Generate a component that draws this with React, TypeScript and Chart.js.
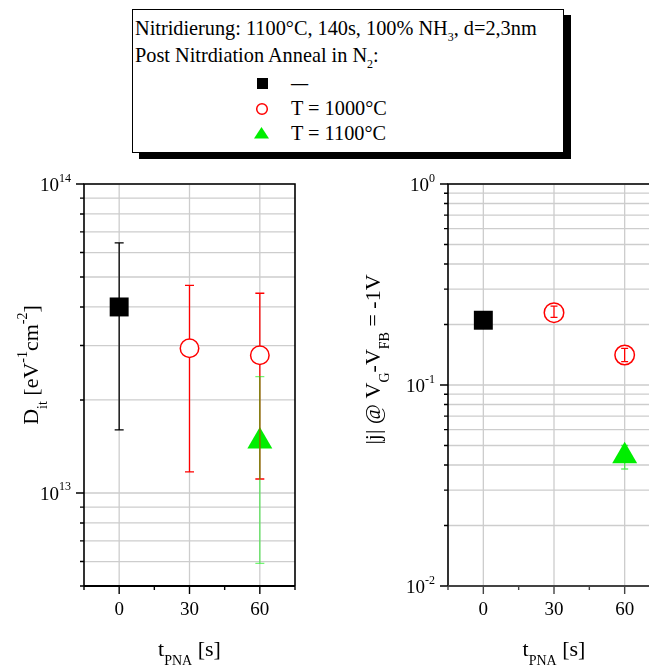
import React, { useEffect, useRef } from 'react';
import { Chart, registerables } from 'chart.js';

Chart.register(...registerables);

// ---------------- data ----------------
const tNoAnneal = [0];
const t1000 = [30, 60];
const t1100 = [60];

// left panel: D_it [eV^-1 cm^-2]
const ditNoAnneal = [4.0e13];
const ditNoAnnealLo = [1.6e13];
const ditNoAnnealHi = [6.45e13];
const dit1000 = [2.94e13, 2.79e13];
const dit1000Lo = [1.17e13, 1.11e13];
const dit1000Hi = [4.7e13, 4.43e13];
const dit1100 = [1.47e13];
const dit1100Lo = [5.92e12];
const dit1100Hi = [2.38e13];

// right panel: |j| @ VG-VFB = -1V
const jNoAnneal = [0.21];
const jNoAnnealLo = [0.2];
const jNoAnnealHi = [0.22];
const j1000 = [0.229, 0.141];
const j1000Lo = [0.217, 0.1306];
const j1000Hi = [0.247, 0.152];
const j1100 = [0.0443];
const j1100Lo = [0.0382];
const j1100Hi = [0.05];

// axes
const tRange = [-15, 75];
const tMinorStep = 15;
const tTickValues = [0, 30, 60];
const tTickLabels = ['0', '30', '60'];
const ditRange = [5e12, 1e14];
const ditTickValues = [1e13, 1e14];
const ditTickExps = ['13', '14'];
const jRange = [1e-2, 1];
const jTickValues = [1e-2, 1e-1, 1];
const jTickExps = ['-2', '-1', '0'];

const BLACK = '#000000';
const RED = '#ff0000';
const GREEN = '#00ee00';

// ---------------- helpers ----------------
const serif = '"Liberation Serif", "Times New Roman", Times, serif';
type Part = [string, number]; // 0 normal, 1 sub, 2 sup

function drawRich(ctx: CanvasRenderingContext2D, parts: Part[], x: number, y: number, align: string, size: number, rot = 0) {
  const small = Math.round(size * 0.63);
  ctx.save();
  ctx.translate(x, y);
  if (rot) ctx.rotate(rot);
  ctx.textBaseline = 'alphabetic';
  ctx.textAlign = 'left';
  ctx.fillStyle = '#000';
  const fonts = parts.map((p) => `${p[1] ? small : size}px ${serif}`);
  const widths = parts.map((p, i) => {
    ctx.font = fonts[i];
    return ctx.measureText(p[0]).width;
  });
  const total = widths.reduce((a, b) => a + b, 0);
  let cx = align === 'center' ? -total / 2 : align === 'right' ? -total : 0;
  parts.forEach((p, i) => {
    ctx.font = fonts[i];
    const dy = p[1] === 1 ? size * 0.43 : p[1] === 2 ? -size * 0.5 : 0;
    ctx.fillText(p[0], cx, dy);
    cx += widths[i];
  });
  ctx.restore();
}

function gridValues(min: number, max: number) {
  const out: number[] = [];
  for (let d = Math.floor(Math.log10(min)); d <= Math.ceil(Math.log10(max)); d++) {
    for (let m = 1; m <= 9; m++) {
      const v = m * Math.pow(10, d);
      if (v >= min * 0.9999 && v <= max * 1.0001) out.push(v);
    }
  }
  return out;
}

function makeDeco(cfg: any) {
  return {
    id: 'deco',
    beforeDatasetsDraw(chart: any) {
      const { ctx, chartArea: a, scales } = chart;
      const xs = scales.x;
      const ys = scales.y;
      ctx.save();
      ctx.strokeStyle = '#cdcdcd';
      ctx.lineWidth = 1.3;
      ctx.beginPath();
      for (const v of gridValues(ys.min, ys.max)) {
        const py = ys.getPixelForValue(v);
        ctx.moveTo(a.left, py);
        ctx.lineTo(a.right, py);
      }
      for (const v of tTickValues) {
        const px = xs.getPixelForValue(v);
        ctx.moveTo(px, a.top);
        ctx.lineTo(px, a.bottom);
      }
      ctx.stroke();
      ctx.restore();
    },
    afterDraw(chart: any) {
      const { ctx, chartArea: a, scales } = chart;
      const xs = scales.x;
      const ys = scales.y;
      ctx.save();
      // frame
      ctx.lineWidth = 1.6;
      ctx.strokeStyle = '#000';
      ctx.beginPath();
      ctx.moveTo(a.left, a.bottom);
      ctx.lineTo(a.left, a.top);
      ctx.lineTo(a.right, a.top);
      ctx.lineTo(a.right, a.bottom);
      ctx.stroke();
      // y ticks
      ctx.lineWidth = 1.4;
      ctx.beginPath();
      for (const v of gridValues(ys.min, ys.max)) {
        const py = ys.getPixelForValue(v);
        const major = Math.abs(Math.log10(v) - Math.round(Math.log10(v))) < 1e-6;
        ctx.moveTo(a.left, py);
        ctx.lineTo(a.left - (major ? 8 : 4), py);
      }
      ctx.stroke();
      // bottom axis + x ticks
      ctx.strokeStyle = cfg.bottomColor;
      ctx.lineWidth = 1.8;
      ctx.beginPath();
      ctx.moveTo(a.left, a.bottom);
      ctx.lineTo(a.right, a.bottom);
      ctx.stroke();
      ctx.lineWidth = 1.4;
      ctx.beginPath();
      for (let v = tRange[0]; v <= tRange[1] + 1e-9; v += tMinorStep) {
        const px = xs.getPixelForValue(v);
        const major = tTickValues.includes(v);
        ctx.moveTo(px, a.bottom);
        ctx.lineTo(px, a.bottom + (major ? 8 : 4));
      }
      ctx.stroke();
      ctx.restore();

      // x tick labels
      ctx.save();
      ctx.fillStyle = '#000';
      ctx.font = `19px ${serif}`;
      ctx.textAlign = 'center';
      ctx.textBaseline = 'alphabetic';
      tTickValues.forEach((v, i) => {
        ctx.fillText(tTickLabels[i], xs.getPixelForValue(v), a.bottom + 29);
      });
      ctx.restore();
      // y tick labels
      cfg.yTickValues.forEach((v: number, i: number) => {
        drawRich(ctx, [['10', 0], [cfg.yTickExps[i], 2]], a.left - 13, ys.getPixelForValue(v) + 7, 'right', 19);
      });
      // titles
      drawRich(ctx, cfg.yTitle, cfg.yTitleX, cfg.yTitleY, 'center', 22, -Math.PI / 2);
      drawRich(ctx, [['t', 0], ['PNA', 1], [' [s]', 0]], (a.left + a.right) / 2, a.bottom + 70, 'center', 22);
    },
  };
}

function drawErr(chart: any, list: number[][], cap: number) {
  const ctx = chart.ctx;
  const xs = chart.scales.x;
  const ys = chart.scales.y;
  for (const [di, alpha] of list) {
    const ds = chart.data.datasets[di];
    ctx.save();
    ctx.globalAlpha = alpha;
    ctx.strokeStyle = ds.errColor;
    ctx.lineWidth = 1.3;
    ds.data.forEach((p: any, i: number) => {
      const x = xs.getPixelForValue(p.x);
      const y1 = ys.getPixelForValue(ds.errHi[i]);
      const y2 = ys.getPixelForValue(ds.errLo[i]);
      ctx.beginPath();
      ctx.moveTo(x, y1);
      ctx.lineTo(x, y2);
      ctx.moveTo(x - cap, y1);
      ctx.lineTo(x + cap, y1);
      ctx.moveTo(x - cap, y2);
      ctx.lineTo(x + cap, y2);
      ctx.stroke();
    });
    ctx.restore();
  }
}

function makeErr(before: Record<number, number[][]>, after: number[][], cap: number) {
  return {
    id: 'errbars',
    beforeDatasetDraw(chart: any, args: any) {
      const l = before[args.index];
      if (l) drawErr(chart, l, cap);
    },
    afterDatasetsDraw(chart: any) {
      if (after.length) drawErr(chart, after, cap);
    },
  };
}

function pts(xs: number[], ys: number[]) {
  return xs.map((x, i) => ({ x, y: ys[i] }));
}

function buildConfig(p: any): any {
  return {
    type: 'scatter',
    data: { datasets: p.datasets },
    options: {
      animation: false,
      responsive: false,
      devicePixelRatio: 1,
      events: [],
      layout: { padding: { left: 0, top: 24, right: p.padRight, bottom: 0 }, autoPadding: false },
      scales: {
        x: {
          type: 'linear', min: tRange[0], max: tRange[1],
          grid: { display: false }, border: { display: false }, ticks: { display: false },
          afterFit: (s: any) => { s.height = 80; },
        },
        y: {
          type: 'logarithmic', min: p.yRange[0], max: p.yRange[1],
          grid: { display: false }, border: { display: false }, ticks: { display: false },
          afterFit: (s: any) => { s.width = p.yWidth; },
        },
      },
      plugins: { legend: { display: false }, tooltip: { enabled: false }, title: { display: false } },
    },
    plugins: [makeDeco(p.deco), makeErr(p.before, p.after, p.cap)],
  };
}

function ds(data: any, style: string, radius: number, color: string, fill: string, lo: number[], hi: number[], order: number) {
  return {
    data,
    showLine: false,
    pointStyle: style,
    pointRadius: radius,
    pointHoverRadius: radius,
    pointBackgroundColor: fill,
    pointBorderColor: color,
    pointBorderWidth: style === 'circle' ? 1.5 : 0,
    errColor: color,
    errLo: lo,
    errHi: hi,
    order,
  };
}

export default function App() {
  const leftRef = useRef<HTMLCanvasElement>(null);
  const rightRef = useRef<HTMLCanvasElement>(null);

  useEffect(() => {
    const c1 = new Chart(leftRef.current as HTMLCanvasElement, buildConfig({
      datasets: [
        ds(pts(tNoAnneal, ditNoAnneal), 'rect', 13.4, BLACK, BLACK, ditNoAnnealLo, ditNoAnnealHi, 3),
        ds(pts(t1000, dit1000), 'circle', 9.25, RED, '#ffffff', dit1000Lo, dit1000Hi, 1),
        ds(pts(t1100, dit1100), 'triangle', 14.4, GREEN, GREEN, dit1100Lo, dit1100Hi, 2),
      ],
      yRange: ditRange,
      yWidth: 84,
      padRight: 35,
      cap: 4.5,
      before: { 0: [[0, 1]], 1: [[1, 1], [2, 0.55]] },
      after: [],
      deco: {
        bottomColor: '#000',
        yTickValues: ditTickValues,
        yTickExps: ditTickExps,
        yTitle: [['D', 0], ['it', 1], [' [eV', 0], ['-1', 2], ['cm', 0], ['-2', 2], [']', 0]],
        yTitleX: 38,
        yTitleY: 205,
      },
    }));
    const c2 = new Chart(rightRef.current as HTMLCanvasElement, buildConfig({
      datasets: [
        ds(pts(tNoAnneal, jNoAnneal), 'rect', 13.4, BLACK, BLACK, jNoAnnealLo, jNoAnnealHi, 3),
        ds(pts(t1000, j1000), 'circle', 9.75, RED, '#ffffff', j1000Lo, j1000Hi, 1),
        ds(pts(t1100, j1100), 'triangle', 14.4, GREEN, GREEN, j1100Lo, j1100Hi, 2),
      ],
      yRange: jRange,
      yWidth: 118,
      padRight: 70,
      cap: 3.5,
      before: {},
      after: [[0, 1], [1, 1], [2, 0.6]],
      deco: {
        bottomColor: '#444',
        yTickValues: jTickValues,
        yTickExps: jTickExps,
        yTitle: [['|j| @ V', 0], ['G', 1], ['-V', 0], ['FB', 1], [' = -1V', 0]],
        yTitleX: 50,
        yTitleY: 199.5,
      },
    }));
    return () => {
      c1.destroy();
      c2.destroy();
    };
  }, []);

  const txt: React.CSSProperties = {
    position: 'absolute', fontSize: 20.3, lineHeight: '20px', whiteSpace: 'nowrap', color: '#000', fontFamily: serif,
  };
  const sub: React.CSSProperties = { fontSize: 12, position: 'relative', top: 6, lineHeight: 0 };

  return (
    <div style={{ position: 'fixed', left: 0, top: 0, width: 649, height: 666, overflow: 'hidden', background: '#fff', fontFamily: serif }}>
      <canvas ref={leftRef} width={330} height={506} style={{ position: 'absolute', left: 0, top: 160, width: 330, height: 506 }} />
      <canvas ref={rightRef} width={400} height={506} style={{ position: 'absolute', left: 330, top: 160, width: 400, height: 506 }} />
      <div style={{ position: 'absolute', left: 132, top: 9, width: 432, height: 144, boxSizing: 'border-box', border: '1.5px solid #000', background: '#fff', boxShadow: '7px 6px 0 0 #000' }} />
      <div style={{ ...txt, left: 135, top: 18 }}>Nitridierung: 1100°C, 140s, 100% NH<span style={sub}>3</span>, d=2,3nm</div>
      <div style={{ ...txt, left: 135, top: 45 }}>Post Nitrdiation Anneal in N<span style={sub}>2</span>:</div>
      <div style={{ ...txt, left: 291, top: 74, fontSize: 18, lineHeight: '18px', fontWeight: 'bold', transform: 'scaleX(0.95)', transformOrigin: 'left center' }}>—</div>
      <div style={{ ...txt, left: 291, top: 98 }}>T = 1000°C</div>
      <div style={{ ...txt, left: 291, top: 123 }}>T = 1100°C</div>
      <svg width={649} height={170} style={{ position: 'absolute', left: 0, top: 0, pointerEvents: 'none' }}>
        <rect x={257} y={78} width={11} height={11} fill={BLACK} />
        <circle cx={262} cy={109} r={5.3} fill="#fff" stroke={RED} strokeWidth={1.5} />
        <polygon points="261.5,127 254,138.5 269,138.5" fill={GREEN} />
      </svg>
    </div>
  );
}
